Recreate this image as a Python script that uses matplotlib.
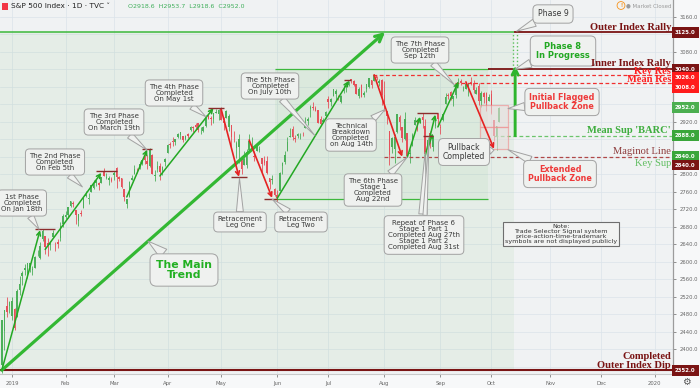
import matplotlib
matplotlib.use('Agg')
import matplotlib.pyplot as plt
import numpy as np
import pandas as pd
from matplotlib.patches import Rectangle
from matplotlib.transforms import blended_transform_factory

# ---------------- data ----------------
dates = [
 '2018-12-24','2018-12-26','2018-12-27','2018-12-28','2018-12-31',
 '2019-01-02','2019-01-03','2019-01-04','2019-01-07','2019-01-08','2019-01-09','2019-01-10','2019-01-11','2019-01-14','2019-01-15','2019-01-16','2019-01-17','2019-01-18','2019-01-22','2019-01-23','2019-01-24','2019-01-25','2019-01-28','2019-01-29','2019-01-30','2019-01-31',
 '2019-02-01','2019-02-04','2019-02-05','2019-02-06','2019-02-07','2019-02-08','2019-02-11','2019-02-12','2019-02-13','2019-02-14','2019-02-15','2019-02-19','2019-02-20','2019-02-21','2019-02-22','2019-02-25','2019-02-26','2019-02-27','2019-02-28',
 '2019-03-01','2019-03-04','2019-03-05','2019-03-06','2019-03-07','2019-03-08','2019-03-11','2019-03-12','2019-03-13','2019-03-14','2019-03-15','2019-03-18','2019-03-19','2019-03-20','2019-03-21','2019-03-22','2019-03-25','2019-03-26','2019-03-27','2019-03-28','2019-03-29',
 '2019-04-01','2019-04-02','2019-04-03','2019-04-04','2019-04-05','2019-04-08','2019-04-09','2019-04-10','2019-04-11','2019-04-12','2019-04-15','2019-04-16','2019-04-17','2019-04-18','2019-04-22','2019-04-23','2019-04-24','2019-04-25','2019-04-26','2019-04-29','2019-04-30',
 '2019-05-01','2019-05-02','2019-05-03','2019-05-06','2019-05-07','2019-05-08','2019-05-09','2019-05-10','2019-05-13','2019-05-14','2019-05-15','2019-05-16','2019-05-17','2019-05-20','2019-05-21','2019-05-22','2019-05-23','2019-05-24','2019-05-28','2019-05-29','2019-05-30','2019-05-31',
 '2019-06-03','2019-06-04','2019-06-05','2019-06-06','2019-06-07','2019-06-10','2019-06-11','2019-06-12','2019-06-13','2019-06-14','2019-06-17','2019-06-18','2019-06-19','2019-06-20','2019-06-21','2019-06-24','2019-06-25','2019-06-26','2019-06-27','2019-06-28',
 '2019-07-01','2019-07-02','2019-07-03','2019-07-05','2019-07-08','2019-07-09','2019-07-10','2019-07-11','2019-07-12','2019-07-15','2019-07-16','2019-07-17','2019-07-18','2019-07-19','2019-07-22','2019-07-23','2019-07-24','2019-07-25','2019-07-26','2019-07-29','2019-07-30','2019-07-31',
 '2019-08-01','2019-08-02','2019-08-05','2019-08-06','2019-08-07','2019-08-08','2019-08-09','2019-08-12','2019-08-13','2019-08-14','2019-08-15','2019-08-16','2019-08-19','2019-08-20','2019-08-21','2019-08-22','2019-08-23','2019-08-26','2019-08-27','2019-08-28','2019-08-29','2019-08-30',
 '2019-09-03','2019-09-04','2019-09-05','2019-09-06','2019-09-09','2019-09-10','2019-09-11','2019-09-12','2019-09-13','2019-09-16','2019-09-17','2019-09-18','2019-09-19','2019-09-20','2019-09-23','2019-09-24','2019-09-25','2019-09-26','2019-09-27','2019-09-30',
 '2019-10-01','2019-10-02','2019-10-03','2019-10-04']

opens = [
 2400.6, 2363.1, 2442.5, 2498.8, 2498.9,
 2476.9, 2491.9, 2474.3, 2535.6, 2568.1, 2580.0, 2573.5, 2588.1, 2580.3, 2585.1, 2614.8, 2609.3, 2651.3, 2657.9, 2643.5, 2638.8, 2657.4, 2644.9, 2644.9, 2653.6, 2685.5,
 2702.3, 2706.5, 2728.3, 2735.1, 2717.5, 2692.4, 2712.4, 2722.6, 2750.3, 2743.5, 2760.2, 2769.3, 2779.1, 2780.7, 2780.7, 2804.4, 2792.4, 2787.5, 2788.1,
 2798.2, 2814.4, 2794.4, 2790.3, 2766.5, 2730.8, 2747.6, 2787.3, 2799.8, 2810.4, 2810.8, 2822.6, 2840.8, 2831.3, 2819.7, 2844.5, 2796.0, 2812.7, 2819.7, 2809.4, 2828.3,
 2848.6, 2868.2, 2876.1, 2874.0, 2884.2, 2888.5, 2886.6, 2881.4, 2891.9, 2900.9, 2908.3, 2912.3, 2916.0, 2904.8, 2898.8, 2910.0, 2934.0, 2929.0, 2925.8, 2940.6, 2937.1,
 2952.3, 2922.2, 2929.2, 2908.9, 2913.0, 2879.6, 2859.8, 2863.1, 2840.2, 2820.1, 2820.4, 2855.8, 2858.6, 2841.9, 2854.0, 2856.1, 2836.7, 2832.4, 2830.0, 2790.3, 2786.9, 2766.2,
 2751.5, 2762.6, 2818.1, 2828.5, 2852.9, 2885.8, 2903.3, 2882.7, 2886.2, 2886.8, 2889.8, 2906.7, 2920.6, 2949.6, 2952.7, 2951.4, 2945.8, 2926.1, 2919.7, 2932.9,
 2971.4, 2964.7, 2978.1, 2984.3, 2979.8, 2965.5, 2989.3, 2999.6, 3003.4, 3017.8, 3012.1, 3005.1, 2978.9, 3004.3, 2981.9, 2994.7, 2998.8, 3016.3, 3013.3, 3024.5, 3007.7, 3016.2,
 2980.3, 2943.9, 2898.1, 2861.2, 2858.6, 2896.2, 2930.5, 2907.1, 2880.7, 2894.2, 2846.2, 2864.7, 2913.5, 2919.0, 2922.0, 2930.9, 2911.1, 2866.7, 2893.1, 2861.3, 2910.4, 2937.1,
 2909.0, 2924.7, 2960.6, 2980.3, 2988.4, 2971.0, 2981.4, 3009.1, 3012.2, 2996.4, 2995.7, 3001.5, 3010.4, 3008.4, 2983.5, 3002.4, 2968.4, 2985.7, 2985.5, 2967.1,
 2983.7, 2924.8, 2885.4, 2918.6]

highs = [
 2410.3, 2467.8, 2489.1, 2520.3, 2509.2,
 2519.5, 2493.1, 2538.1, 2566.2, 2579.8, 2595.3, 2597.8, 2596.3, 2589.3, 2613.1, 2625.8, 2645.1, 2675.5, 2657.9, 2653.2, 2647.2, 2672.4, 2644.9, 2650.9, 2690.4, 2708.9,
 2716.7, 2725.0, 2739.0, 2738.1, 2719.3, 2708.1, 2718.1, 2748.2, 2761.9, 2757.9, 2775.7, 2787.3, 2789.9, 2781.5, 2794.2, 2813.5, 2803.1, 2795.8, 2793.7,
 2808.0, 2816.9, 2796.4, 2790.3, 2767.3, 2744.1, 2784.0, 2798.3, 2821.2, 2815.0, 2830.7, 2835.4, 2852.4, 2843.5, 2860.3, 2846.2, 2809.8, 2829.9, 2825.6, 2819.7, 2836.0,
 2869.4, 2872.9, 2885.3, 2881.3, 2893.2, 2895.9, 2886.9, 2889.7, 2893.4, 2910.5, 2909.6, 2916.1, 2918.0, 2908.5, 2909.5, 2936.3, 2936.8, 2933.1, 2939.9, 2949.5, 2948.2,
 2954.1, 2931.7, 2947.9, 2937.3, 2913.0, 2898.0, 2876.0, 2891.3, 2840.2, 2852.5, 2858.7, 2892.2, 2885.5, 2853.9, 2868.9, 2865.5, 2836.7, 2841.4, 2840.5, 2792.0, 2799.0, 2769.0,
 2763.1, 2804.5, 2827.3, 2852.1, 2885.0, 2904.8, 2910.6, 2888.6, 2895.2, 2894.5, 2897.3, 2930.8, 2931.7, 2958.1, 2964.2, 2954.9, 2946.5, 2932.6, 2929.3, 2944.0,
 2977.9, 2973.2, 2995.8, 2994.0, 2980.8, 2981.9, 3003.0, 3002.3, 3013.9, 3017.8, 3015.0, 3005.3, 2998.3, 3006.5, 2990.7, 3005.9, 3019.6, 3016.3, 3028.0, 3025.6, 3017.2, 3017.4,
 3013.6, 2945.5, 2898.1, 2884.4, 2892.2, 2938.7, 2935.8, 2907.6, 2943.3, 2894.2, 2856.7, 2893.6, 2931.0, 2923.6, 2928.7, 2939.1, 2927.0, 2879.3, 2898.8, 2890.0, 2930.5, 2940.4,
 2914.4, 2938.8, 2985.9, 2985.0, 2989.4, 2979.4, 3000.9, 3020.7, 3017.3, 3002.2, 3006.2, 3007.8, 3022.0, 3016.4, 2999.2, 3008.0, 2989.8, 2987.3, 2987.3, 2983.9,
 2992.5, 2924.8, 2911.1, 2953.7]

lows = [
 2351.1, 2346.6, 2397.9, 2472.9, 2482.8,
 2467.5, 2444.0, 2474.3, 2524.6, 2547.6, 2568.9, 2562.0, 2577.4, 2570.4, 2585.1, 2612.7, 2606.4, 2647.6, 2617.3, 2612.9, 2627.0, 2657.3, 2624.1, 2631.1, 2648.3, 2678.7,
 2696.9, 2698.8, 2724.0, 2724.2, 2687.3, 2681.8, 2703.8, 2722.6, 2748.6, 2731.2, 2760.2, 2767.3, 2774.1, 2764.6, 2779.1, 2795.0, 2789.5, 2775.1, 2782.5,
 2787.4, 2767.7, 2785.0, 2768.7, 2739.1, 2722.3, 2747.6, 2786.7, 2799.8, 2803.5, 2810.8, 2822.0, 2823.3, 2812.4, 2817.4, 2800.5, 2785.0, 2804.0, 2787.7, 2798.8, 2819.2,
 2848.6, 2858.8, 2865.2, 2867.1, 2883.0, 2880.8, 2873.3, 2879.1, 2882.0, 2898.4, 2896.5, 2900.7, 2895.5, 2891.9, 2896.4, 2908.5, 2926.1, 2912.8, 2917.6, 2939.4, 2924.1,
 2923.4, 2900.5, 2929.2, 2898.2, 2862.6, 2873.3, 2836.4, 2825.4, 2801.4, 2820.1, 2815.1, 2855.8, 2854.2, 2831.3, 2854.0, 2851.1, 2805.5, 2820.2, 2801.6, 2766.1, 2776.7, 2750.5,
 2728.8, 2762.6, 2800.9, 2822.5, 2852.9, 2885.5, 2878.5, 2874.7, 2882.0, 2879.6, 2887.3, 2905.4, 2911.4, 2931.5, 2946.9, 2944.1, 2916.0, 2913.0, 2918.6, 2929.1,
 2952.2, 2955.9, 2978.0, 2968.0, 2970.1, 2963.4, 2984.6, 2988.8, 3001.9, 3008.8, 3001.2, 2984.3, 2973.1, 2975.9, 2976.7, 2988.6, 2996.8, 2997.2, 3012.6, 3014.5, 3000.9, 2958.1,
 2945.2, 2914.1, 2822.1, 2847.4, 2825.7, 2894.5, 2900.2, 2873.1, 2877.1, 2839.6, 2825.5, 2864.7, 2913.5, 2899.6, 2917.9, 2904.5, 2835.0, 2856.0, 2860.6, 2853.1, 2905.7, 2913.3,
 2891.9, 2921.9, 2960.6, 2972.5, 2969.4, 2957.0, 2975.3, 3000.9, 3002.9, 2990.7, 2993.7, 2978.6, 3003.2, 2984.7, 2982.2, 2957.7, 2952.9, 2963.7, 2945.5, 2967.1,
 2938.7, 2874.9, 2855.9, 2918.6]

closes = [
 2351.1, 2467.7, 2488.8, 2485.7, 2506.9,
 2510.0, 2447.9, 2531.9, 2549.7, 2574.4, 2585.0, 2596.6, 2596.3, 2582.6, 2610.3, 2616.1, 2636.0, 2670.7, 2632.9, 2638.7, 2642.3, 2664.8, 2643.9, 2640.0, 2681.1, 2704.1,
 2706.5, 2724.9, 2737.7, 2731.6, 2706.1, 2707.9, 2709.8, 2744.7, 2753.0, 2745.7, 2775.6, 2779.8, 2784.7, 2774.9, 2792.7, 2796.1, 2793.9, 2792.4, 2784.5,
 2803.7, 2792.8, 2789.7, 2771.5, 2748.9, 2743.1, 2783.3, 2791.5, 2810.9, 2808.5, 2822.5, 2832.9, 2832.6, 2824.2, 2854.9, 2800.7, 2798.4, 2818.5, 2805.4, 2815.4, 2834.4,
 2867.2, 2867.2, 2873.4, 2879.4, 2892.7, 2895.8, 2878.2, 2888.2, 2888.3, 2907.4, 2905.6, 2907.1, 2900.5, 2905.0, 2908.0, 2933.7, 2927.3, 2926.2, 2939.9, 2943.0, 2945.8,
 2923.7, 2917.5, 2945.6, 2932.5, 2884.1, 2879.4, 2870.7, 2881.4, 2811.9, 2834.4, 2851.0, 2876.3, 2859.5, 2840.2, 2864.4, 2856.3, 2822.2, 2826.1, 2802.4, 2783.0, 2788.9, 2752.1,
 2744.5, 2803.3, 2826.2, 2843.5, 2873.3, 2886.7, 2885.7, 2879.8, 2891.6, 2887.0, 2889.7, 2917.8, 2926.5, 2954.2, 2950.5, 2945.4, 2917.4, 2913.8, 2924.9, 2941.8,
 2964.3, 2973.0, 2995.8, 2990.4, 2976.0, 2979.6, 2993.1, 2999.9, 3013.8, 3014.3, 3004.0, 2984.4, 2995.1, 2976.6, 2985.0, 3005.5, 3019.6, 3003.7, 3025.9, 3021.0, 3013.2, 2980.4,
 2953.6, 2932.1, 2844.7, 2881.8, 2884.0, 2938.1, 2918.7, 2882.7, 2926.3, 2840.6, 2847.6, 2888.7, 2923.7, 2900.5, 2924.4, 2923.0, 2847.1, 2878.4, 2869.2, 2887.9, 2924.6, 2926.5,
 2906.3, 2937.8, 2976.0, 2978.7, 2978.4, 2979.4, 3000.9, 3009.6, 3007.4, 2998.0, 3005.7, 3006.7, 3006.8, 2992.1, 2991.8, 2966.6, 2984.9, 2977.6, 2961.8, 2976.7,
 2940.3, 2887.6, 2910.6, 2952.0]

month_tick_dates = ['2019-01-02', '2019-02-01', '2019-03-01', '2019-04-01', '2019-05-01', '2019-06-03',
                    '2019-07-01', '2019-08-01', '2019-09-03', '2019-10-01', '2019-11-01', '2019-12-02', '2020-01-02']
month_tick_labels = ['2019', 'Feb', 'Mar', 'Apr', 'May', 'Jun', 'Jul', 'Aug', 'Sep', 'Oct', 'Nov', 'Dec', '2020']

# key levels
outer_rally = 3125.0
inner_rally = 3040.0
key_res = 3026.0
mean_res = 3008.0
last_price = 2952.0
mean_sup = 2888.0
maginot = 2840.0
inner_floor = 2744.0
outer_dip = 2352.0

price_ticks = list(range(2360, 3200, 40))
hidden_tick_labels = [2360, 2840, 2880, 2960, 3000, 3040, 3120]

# ---------------- calendar / positions ----------------
holidays = ['2018-12-25', '2019-01-01', '2019-01-21', '2019-02-18', '2019-04-19', '2019-05-27',
            '2019-07-04', '2019-09-02', '2019-11-28', '2019-12-25', '2020-01-01']
cal = pd.bdate_range('2018-12-24', '2020-02-28', freq='C', holidays=holidays)
pos = {d: i for i, d in enumerate(cal)}
def X(d):
    return pos[pd.Timestamp(d)]

o = np.array(opens); h = np.array(highs); l = np.array(lows); c = np.array(closes)
xs = np.array([X(d) for d in dates])

W, H = 700, 388
fig = plt.figure(figsize=(7, 3.88), dpi=100, facecolor='#f7f8f9')
ax = fig.add_axes([0, 14 / H, 673 / W, 374 / H])
ax.set_facecolor('#f0f2f3')
XL, XR = 0.29, 264.2
ax.set_xlim(XL, XR)
ax.set_ylim(2343.3, 3198.2)

GREEN_C = '#4caf5a'
RED_C = '#e5505a'
DARKRED = '#7a1414'
LINE_G = '#3cb83c'
ARROW_G = '#23a823'
ARROW_R = '#e52222'
BAR_D = '#8b2d2d'

# grid
ax.set_axisbelow(True)
ax.grid(True, color='#dbe3ea', lw=0.5)

# boxes
xo_r = X('2019-10-14')
xi_l = X('2019-05-31')
xi_r = X('2019-09-27') + 0.7
ax.add_patch(Rectangle((XL, outer_dip), xo_r - XL, outer_rally - outer_dip, fc='#5fb85f', alpha=0.075, lw=0, zorder=0.8))
ax.add_patch(Rectangle((xi_l, inner_floor), xi_r - xi_l, inner_rally - inner_floor, fc='#5fb85f', alpha=0.07, lw=0, zorder=0.8))

# candles
up = c >= o
cols = np.where(up, GREEN_C, RED_C)
ax.vlines(xs, l, h, colors=cols, lw=0.6, zorder=2)
ax.bar(xs, np.maximum(np.abs(c - o), 0.9), bottom=np.minimum(o, c), width=0.62, color=cols, lw=0, zorder=2.1)

# level lines
ax.hlines(outer_rally, XL, xo_r, color=LINE_G, lw=1.1, zorder=3)
ax.hlines(outer_rally, xo_r, XR, color=DARKRED, lw=1.3, zorder=3)
ax.hlines(inner_rally, xi_l, xi_r, color=LINE_G, lw=0.9, zorder=3)
ax.hlines(inner_rally, xi_r, XR, color=DARKRED, lw=1.3, zorder=3)
ax.hlines(inner_floor, xi_l, xi_r, color=LINE_G, lw=0.9, zorder=3)
ax.hlines(key_res, X('2019-07-26') - 0.5, XR, color='#f03030', lw=0.9, ls=(0, (3, 2)), zorder=3)
ax.hlines(mean_res, X('2019-09-10') + 0.7, XR, color='#f03030', lw=0.9, ls=(0, (3, 2)), zorder=3)
ax.hlines(mean_sup, X('2019-10-02'), XR, color='#6cc46c', lw=0.9, ls=(0, (3, 2)), zorder=3)
ax.hlines(maginot, X('2019-08-01'), XR, color='#b04848', lw=0.9, ls=(0, (3, 2)), zorder=3)
ax.hlines(outer_dip, XL, XR, color=DARKRED, lw=1.5, zorder=3)
ax.vlines([xo_r - 0.5, xo_r + 0.9], inner_rally, outer_rally, color='#5cc05c', lw=1.0, ls=':', zorder=3)

def arrow(d0, p0, d1, p1, color, lw=1.1, ms=7):
    ax.annotate('', xy=(X(d1), p1), xytext=(X(d0), p0),
                arrowprops=dict(arrowstyle='->', color=color, lw=lw, shrinkA=0, shrinkB=0,
                                mutation_scale=ms), zorder=4)

def hbar(d0, d1, p):
    ax.hlines(p, X(d0), X(d1), color=BAR_D, lw=1.0, zorder=4)

# main trend
ax.annotate('', xy=(X('2019-08-01') + 0.3, outer_rally), xytext=(X('2018-12-26'), outer_dip),
            arrowprops=dict(arrowstyle='->', color='#33b833', lw=2.3, shrinkA=0, shrinkB=0,
                            mutation_scale=13), zorder=4)
# phase arrows
arrow('2018-12-26', 2352, '2019-01-17', 2672, ARROW_G)
arrow('2019-01-22', 2628, '2019-02-22', 2803, ARROW_G)
arrow('2019-03-08', 2748, '2019-03-20', 2856, ARROW_G)
arrow('2019-03-27', 2796, '2019-04-26', 2951, ARROW_G)
arrow('2019-06-03', 2745, '2019-07-12', 3013, ARROW_G)
arrow('2019-08-14', 2839, '2019-08-21', 2931, ARROW_G)
arrow('2019-08-23', 2841, '2019-08-29', 2936, ARROW_G)
arrow('2019-08-26', 2858, '2019-08-28', 2893, ARROW_G, ms=5)
arrow('2019-08-30', 2908, '2019-09-12', 3011, ARROW_G)
# retracements
arrow('2019-05-01', 2949, '2019-05-10', 2794, ARROW_R, lw=1.2)
arrow('2019-05-16', 2878, '2019-05-30', 2746, ARROW_R, lw=1.2)
arrow('2019-07-26', 3027, '2019-08-12', 2840, ARROW_R, lw=1.2)
arrow('2019-09-17', 3011, '2019-10-02', 2858, ARROW_R, lw=1.2)
# phase 8
ax.annotate('', xy=(xo_r + 0.3, 3048), xytext=(xo_r + 0.3, mean_sup),
            arrowprops=dict(arrowstyle='->', color='#2db52d', lw=2.1, shrinkA=0, shrinkB=0,
                            mutation_scale=11), zorder=4)
# completion bars
hbar('2019-01-15', '2019-01-28', 2675)
hbar('2019-02-20', '2019-03-04', 2808)
hbar('2019-03-18', '2019-03-22', 2858)
hbar('2019-04-24', '2019-05-02', 2952)
hbar('2019-05-07', '2019-05-15', 2794)
hbar('2019-05-24', '2019-06-03', 2744)
hbar('2019-07-10', '2019-07-15', 3015)
hbar('2019-08-20', '2019-08-30', 2940)
hbar('2019-08-22', '2019-08-28', 2888)

# pullback zones
zx0 = X('2019-09-24') + 0.5
zx1 = X('2019-10-09') + 0.5
ax.add_patch(Rectangle((zx0, 2908), zx1 - zx0, 50, fc='#e8dede', alpha=0.6, ec='#f08a8a', lw=0.9, zorder=3.5))
ax.add_patch(Rectangle((zx0, 2858), zx1 - zx0, 50, fc='#e8dede', alpha=0.6, ec='#f08a8a', lw=0.9, zorder=3.5))

# axes styling
for s in ['top', 'left']:
    ax.spines[s].set_visible(False)
ax.spines['right'].set_color('#9c9c9c'); ax.spines['right'].set_linewidth(0.9)
ax.spines['bottom'].set_color('#c9c9c9'); ax.spines['bottom'].set_linewidth(0.8)
ax.yaxis.tick_right()
ax.set_yticks(price_ticks)
ax.set_yticklabels(['' if t in hidden_tick_labels else f'{t:.1f}' for t in price_ticks])
ax.tick_params(axis='y', labelsize=3.8, colors='#666666', length=2, width=0.5, pad=3)
ax.set_xticks([X(d) for d in month_tick_dates])
ax.set_xticklabels(month_tick_labels)
ax.tick_params(axis='x', labelsize=3.8, colors='#666666', length=2, width=0.5, pad=3)

# price tags
bt = blended_transform_factory(ax.transAxes, ax.transData)
def tag(price, shown, fc):
    ax.text(1.003, shown, f'{price:.1f}', transform=bt, ha='left', va='center', fontsize=3.9,
            color='white', fontweight='bold', clip_on=False, zorder=10,
            bbox=dict(boxstyle='square,pad=0.55', fc=fc, ec='none'))
tag(outer_rally, outer_rally, DARKRED)
tag(inner_rally, inner_rally, DARKRED)
tag(key_res, key_res - 6, '#ff1c1c')
tag(mean_res, mean_res - 9, '#ff1c1c')
tag(last_price, last_price, '#4caf50')
tag(mean_sup, mean_sup, '#3aa63a')
tag(maginot, maginot, '#3aa63a')
tag(maginot, maginot - 19, DARKRED)
tag(outer_dip, outer_dip, DARKRED)

# right-side level labels
def ftext(px, py, s, **kw):
    return fig.text(px / W, 1 - py / H, s, **kw)

SERIF = 'Liberation Serif'
lab = dict(ha='right', va='center', family=SERIF, fontsize=7.6, zorder=8)
ftext(671, 27, 'Outer Index Rally', color=DARKRED, fontweight='bold', **lab)
ftext(671, 63, 'Inner Index Rally', color=DARKRED, fontweight='bold', **lab)
ftext(671, 71.5, 'Key Res', color='#ff2020', fontweight='bold', **lab)
ftext(671, 79.5, 'Mean Res', color='#ff2020', fontweight='bold', **lab)
ftext(671, 130.5, "Mean Sup 'BARC'", color='#3fae3f', fontweight='bold', **lab)
ftext(671, 152, 'Maginot Line', color='#8e3d3d', **lab)
ftext(671, 163, 'Key Sup', color='#62be62', **lab)
ftext(671, 356.5, 'Completed', color=DARKRED, fontweight='bold', **lab)
ftext(671, 365, 'Outer Index Dip', color=DARKRED, fontweight='bold', **lab)

# header
fig.add_artist(Rectangle((2 / W, 1 - 10 / H), 6 / W, 7 / H, transform=fig.transFigure, fc='#f23645', ec='none'))
ftext(11, 6.5, 'S&P 500 Index · 1D · TVC \u02c5', fontsize=5.3, color='#222222', va='center', ha='left')
ftext(128, 6.5, 'O2918.6  H2953.7  L2918.6  C2952.0', fontsize=4.5, color='#3fae5a', va='center', ha='left')
ftext(621, 5.5, '!', fontsize=3.4, color='#f7931a', va='center', ha='center', fontweight='bold',
      bbox=dict(boxstyle='circle,pad=0.3', fc='none', ec='#f7931a', lw=0.6))
ftext(671, 5.5, '\u25cf Market Closed', fontsize=4.0, color='#9a9a9a', va='center', ha='right')
ftext(686, 382, '\u2699', fontsize=7, color='#555555', va='center', ha='center')

# callouts
BOXFC = '#eff1ef'
BOXEC = '#a2a2a2'
def callout(text, cx, cy, tip, color='#3a3a3a', size=5.0, weight='normal', tw=1.0, pad=0.55):
    ax.annotate(text, xy=tip, xycoords='data', xytext=(cx, H - cy), textcoords='figure pixels',
                ha='center', va='center', fontsize=size, color=color, fontweight=weight,
                linespacing=1.05, annotation_clip=False, zorder=6,
                bbox=dict(boxstyle=f'round,pad={pad},rounding_size=0.6', fc=BOXFC, ec=BOXEC, lw=0.7),
                arrowprops=dict(arrowstyle=f'wedge,tail_width={tw},shrink_factor=0.5', fc=BOXFC,
                                ec=BOXEC, lw=0.7, shrinkA=0, shrinkB=0))

callout('1st Phase\nCompleted\nOn Jan 18th', 22, 203, (X('2019-01-17') - 0.4, 2674))
callout('The 2nd Phase\nCompleted\nOn Feb 5th', 55, 162, (X('2019-02-12') - 0.4, 2771))
callout('The 3rd Phase\nCompleted\nOn March 19th', 114, 122, (X('2019-03-20'), 2855))
callout('The 4th Phase\nCompleted\nOn May 1st', 174, 93, (X('2019-04-24') - 0.9, 2931))
callout('The 5th Phase\nCompleted\nOn July 10th', 270, 86, (X('2019-06-21') + 0.8, 2888))
callout('Technical\nBreakdown\nCompleted\non Aug 14th', 351, 135, (X('2019-08-01') + 0.3, 2948))
callout('The 6th Phase\nStage 1\nCompleted\nAug 22nd', 373, 190, (X('2019-08-14'), 2839))
ax.annotate('', xy=(X('2019-08-23'), 2850), xytext=(423, H - 214), textcoords='figure pixels',
            arrowprops=dict(arrowstyle='wedge,tail_width=0.6,shrink_factor=0.5', fc=BOXFC, ec=BOXEC,
                            lw=0.7, shrinkA=0, shrinkB=0), zorder=5.9, annotation_clip=False)
callout('Repeat of Phase 6\nStage 1 Part 1\nCompleted Aug 27th\nStage 1 Part 2\nCompleted Aug 31st',
        424, 235, (X('2019-08-27') - 0.5, 2885), tw=0.6)
callout('The 7th Phase\nCompleted\nSep 12th', 420, 50, (X('2019-09-10') + 0.5, 3004))
callout('Pullback\nCompleted', 464, 152, (X('2019-10-02'), 2855), size=5.6)
callout('Retracement\nLeg One', 240, 222, (X('2019-05-10') + 0.2, 2791))
callout('Retracement\nLeg Two', 301, 222, (X('2019-05-30'), 2743))
callout('The Main\nTrend', 184, 270, (X('2019-03-20') + 0.3, 2647), color='#22b022', size=7.8, weight='bold')
callout('Phase 8\nIn Progress', 563, 51, (xo_r + 0.3, 3040), color='#22a822', size=6.0, weight='bold', pad=0.7)
callout('Initial Flagged\nPullback Zone', 562, 102, (zx1, 2950), color='#ee3a3a', size=5.8, weight='bold')
callout('Extended\nPullback Zone', 560, 174, (zx1, 2856), color='#ee3a3a', size=5.8, weight='bold')
callout('Phase 9', 553, 14, (xo_r + 0.9, 3127), size=5.6, pad=0.6)

ftext(561, 234, 'Note:\nTrade Selector Signal system\nprice-action-time-trademark\nsymbols are not displayed publicly',
      fontsize=4.6, color='#333333', ha='center', va='center', linespacing=1.0, zorder=7,
      bbox=dict(boxstyle='square,pad=0.35', fc='#f2f3f2', ec='#6e6e6e', lw=0.8))

fig.savefig('out.png', dpi=100, facecolor=fig.get_facecolor())
